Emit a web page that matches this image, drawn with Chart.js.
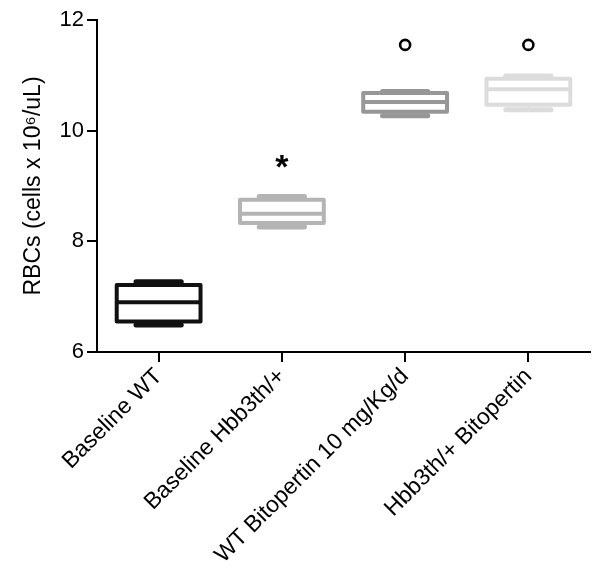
<!DOCTYPE html>
<html lang="en">

<head>
    <meta charset="UTF-8">
    <title>RBCs</title>
    <script src="https://cdn.jsdelivr.net/npm/chart.js@4.4.0/dist/chart.umd.min.js"></script>
    <style>
        body {
            margin: 0;
            background: #fff;
        }

        #wrap {
            width: 602px;
            height: 578px;
        }
    </style>
</head>

<body>
    <div id="wrap"><canvas id="rbcChart"></canvas></div>

    <script>
        const groups = ['Baseline WT', 'Baseline Hbb3th/+', 'WT Bitopertin 10 mg/Kg/d', 'Hbb3th/+ Bitopertin'];

        // box plot values per group
        const minVals = [6.49, 8.26, 10.27, 10.38];
        const q1Vals = [6.55, 8.33, 10.34, 10.47];
        const medianVals = [6.90, 8.50, 10.52, 10.75];
        const q3Vals = [7.21, 8.75, 10.68, 10.94];
        const maxVals = [7.27, 8.81, 10.71, 10.99];

        // significance marks above the boxes
        const starVals = [null, 9.44, null, null];
        const circleVals = [null, null, 11.55, 11.55];

        const yTicks = [6, 8, 10, 12];

        const boxColors = ['#111111', '#b4b4b4', '#979797', '#dcdcdc'];
        const FONT = "Arial, 'Liberation Sans', sans-serif";

        const boxPlugin = {
            id: 'boxWhiskers',
            afterDatasetsDraw(chart) {
                const ctx = chart.ctx;
                const y = chart.scales.y;
                const meta = chart.getDatasetMeta(0);
                ctx.save();
                ctx.lineJoin = 'round';
                meta.data.forEach((bar, i) => {
                    const cx = bar.x;
                    const half = bar.width / 2;
                    const capHalf = half * 0.54;
                    const top = y.getPixelForValue(q3Vals[i]);
                    const bottom = y.getPixelForValue(q1Vals[i]);
                    const med = y.getPixelForValue(medianVals[i]);
                    const hi = y.getPixelForValue(maxVals[i]);
                    const lo = y.getPixelForValue(minVals[i]);
                    ctx.strokeStyle = boxColors[i];

                    // whiskers
                    ctx.lineWidth = 1.5;
                    ctx.beginPath();
                    ctx.moveTo(cx, hi);
                    ctx.lineTo(cx, top);
                    ctx.moveTo(cx, bottom);
                    ctx.lineTo(cx, lo);
                    ctx.stroke();

                    // caps
                    ctx.lineWidth = 5;
                    ctx.lineCap = 'round';
                    ctx.beginPath();
                    ctx.moveTo(cx - capHalf, hi);
                    ctx.lineTo(cx + capHalf, hi);
                    ctx.moveTo(cx - capHalf, lo);
                    ctx.lineTo(cx + capHalf, lo);
                    ctx.stroke();

                    // box and median
                    ctx.lineCap = 'butt';
                    ctx.lineWidth = 4;
                    ctx.strokeRect(cx - half, top, bar.width, bottom - top);
                    ctx.beginPath();
                    ctx.moveTo(cx - half, med);
                    ctx.lineTo(cx + half, med);
                    ctx.stroke();

                    // asterisk
                    if (starVals[i] !== null) {
                        ctx.font = 'bold 34px ' + FONT;
                        ctx.fillStyle = '#000';
                        ctx.textAlign = 'center';
                        ctx.textBaseline = 'alphabetic';
                        const m = ctx.measureText('*');
                        const sy = y.getPixelForValue(starVals[i]);
                        const shift = (m.actualBoundingBoxAscent - m.actualBoundingBoxDescent) / 2;
                        ctx.fillText('*', cx, sy + shift);
                    }
                });
                ctx.restore();
            }
        };

        const ctx = document.getElementById('rbcChart').getContext('2d');

        const chart = new Chart(ctx, {
            type: 'bar',
            data: {
                labels: groups,
                datasets: [{
                    type: 'bar',
                    data: groups.map((g, i) => [q1Vals[i], q3Vals[i]]),
                    backgroundColor: '#ffffff',
                    borderWidth: 0,
                    barPercentage: 0.68,
                    categoryPercentage: 1
                }, {
                    type: 'line',
                    data: circleVals,
                    showLine: false,
                    pointRadius: 5,
                    pointBorderWidth: 2.6,
                    pointBorderColor: '#000',
                    pointBackgroundColor: '#fff'
                }]
            },
            options: {
                responsive: true,
                maintainAspectRatio: false,
                animation: false,
                layout: {
                    padding: { top: 20, right: 12, left: 0, bottom: 0 }
                },
                plugins: {
                    legend: { display: false },
                    tooltip: { enabled: false }
                },
                scales: {
                    x: {
                        offset: true,
                        grid: {
                            offset: false,
                            drawOnChartArea: false,
                            tickLength: 10,
                            color: '#000',
                            lineWidth: 2
                        },
                        border: { color: '#000', width: 2 },
                        ticks: {
                            color: '#000',
                            font: { family: FONT, size: 23 },
                            minRotation: 45,
                            maxRotation: 45,
                            autoSkip: false,
                            padding: 1
                        },
                        afterFit(scale) {
                            scale.height = 226;
                        }
                    },
                    y: {
                        min: 6,
                        max: 12,
                        afterBuildTicks(scale) {
                            scale.ticks = yTicks.map(v => ({ value: v }));
                        },
                        grid: {
                            drawOnChartArea: false,
                            tickLength: 10,
                            color: '#000',
                            lineWidth: 2
                        },
                        border: { color: '#000', width: 2 },
                        ticks: {
                            color: '#000',
                            font: { family: FONT, size: 22 },
                            padding: 3
                        },
                        title: {
                            display: true,
                            text: 'RBCs (cells x 10⁶/uL)',
                            color: '#000',
                            font: { family: FONT, size: 23 },
                            padding: { top: 20, bottom: 0 }
                        },
                        afterFit(scale) {
                            scale.width = 97;
                        }
                    }
                }
            },
            plugins: [boxPlugin]
        });
    </script>

</body>

</html>
